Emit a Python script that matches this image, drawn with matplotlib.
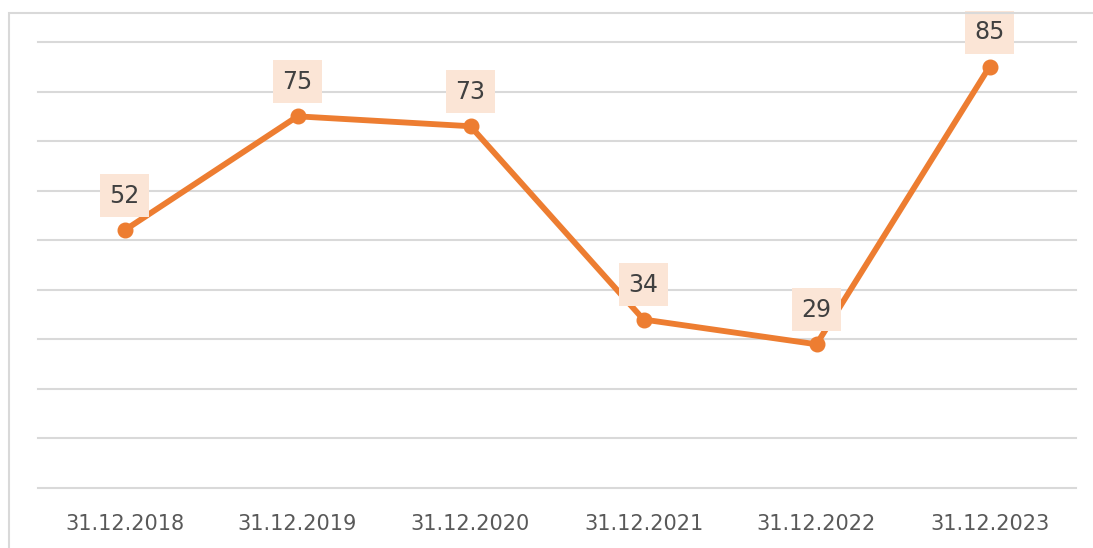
import matplotlib.pyplot as plt
from matplotlib.patches import Rectangle

dates = ["31.12.2018", "31.12.2019", "31.12.2020", "31.12.2021", "31.12.2022", "31.12.2023"]
values = [52, 75, 73, 34, 29, 85]

W, H = 1093, 548
fig = plt.figure(figsize=(W / 100, H / 100), dpi=100)
fig.patch.set_facecolor("white")

# outer chart border (cut off on the right and bottom)
fig.add_artist(Rectangle((8.5 / W, -0.05), 1.2, (H - 12.5) / H + 0.05,
                         transform=fig.transFigure, fill=False,
                         edgecolor="#D9D9D9", linewidth=1.5))

ax = fig.add_axes([38 / W, (H - 488) / H, (1076 - 38) / W, (488 - 42) / H])
x = list(range(len(dates)))

for yv in range(0, 91, 10):
    ax.axhline(yv, color="#D9D9D9", linewidth=1.5, zorder=0, clip_on=False)

ax.plot(x, values, color="#ED7D31", linewidth=4.2, marker="o",
        markersize=10.5, solid_capstyle="round", zorder=3)

for xi, v in zip(x, values):
    ax.annotate(str(v), (xi, v), xytext=(0, 25), textcoords="offset points",
                ha="center", va="center", fontsize=17, color="#404040",
                bbox=dict(boxstyle="square,pad=0.4", facecolor="#FBE5D6",
                          edgecolor="none"), zorder=4)

ax.set_xlim(-0.5, 5.5)
ax.set_ylim(0, 90)
ax.set_xticks(x)
ax.set_xticklabels(dates, fontsize=15, color="#595959")
ax.set_yticks([])
ax.tick_params(axis="x", length=0, pad=19)
for s in ax.spines.values():
    s.set_visible(False)

fig.savefig("out.png", dpi=100)
